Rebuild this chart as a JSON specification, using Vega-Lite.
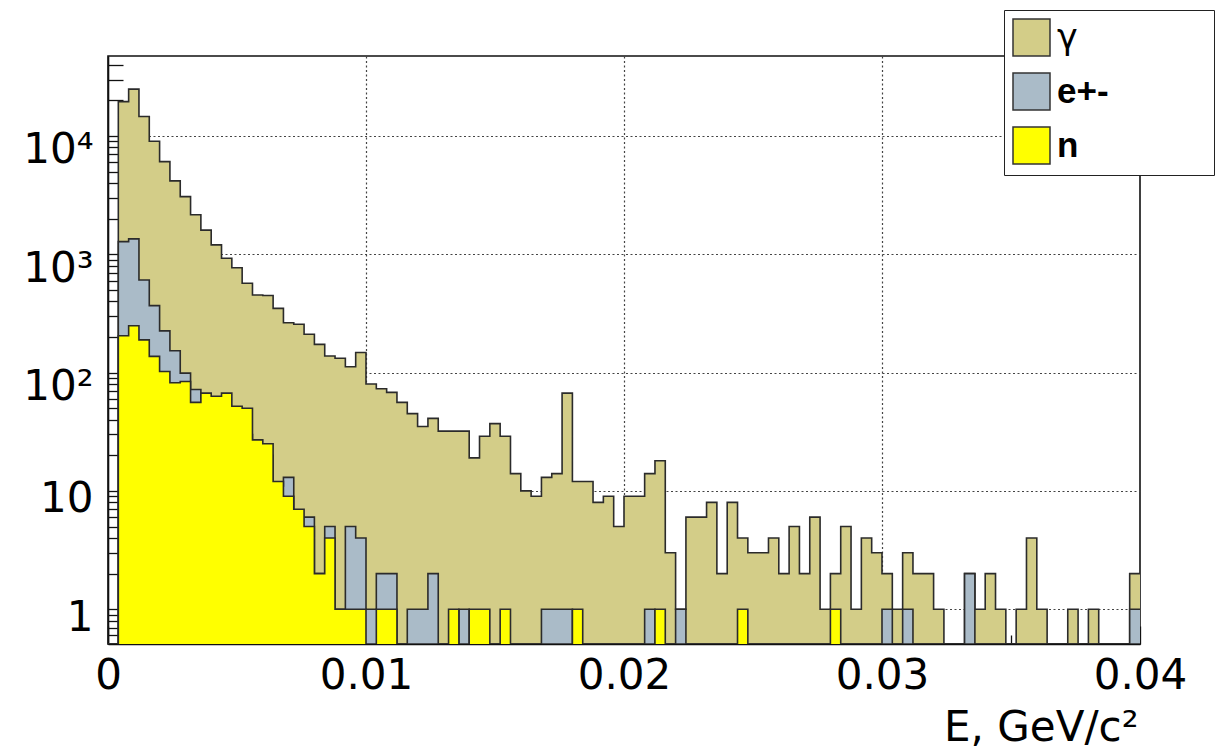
{
  "$schema": "https://vega.github.io/schema/vega-lite/v6.json",
  "width": 1032,
  "height": 588,
  "autosize": "none",
  "padding": {"left": 108, "top": 56, "right": 80, "bottom": 108},
  "background": "white",
  "config": {
    "font": "DejaVu Sans",
    "view": {"stroke": "#111", "strokeWidth": 1.6}
  },
  "data": {
    "values": [
      {"E": 0.0000, "g": 0, "e": 0, "n": 0},
      {"E": 0.0004, "g": 19500, "e": 1280, "n": 205},
      {"E": 0.0008, "g": 24900, "e": 1350, "n": 249},
      {"E": 0.0012, "g": 14600, "e": 606, "n": 189},
      {"E": 0.0016, "g": 9020, "e": 368, "n": 137},
      {"E": 0.0020, "g": 6070, "e": 225, "n": 102},
      {"E": 0.0024, "g": 4170, "e": 153, "n": 82},
      {"E": 0.0028, "g": 3070, "e": 99, "n": 84},
      {"E": 0.0032, "g": 2160, "e": 72, "n": 56},
      {"E": 0.0036, "g": 1600, "e": 60, "n": 67},
      {"E": 0.0040, "g": 1200, "e": 50, "n": 63},
      {"E": 0.0044, "g": 925, "e": 42, "n": 67},
      {"E": 0.0048, "g": 770, "e": 35, "n": 52},
      {"E": 0.0052, "g": 569, "e": 30, "n": 50},
      {"E": 0.0056, "g": 453, "e": 24, "n": 27},
      {"E": 0.0060, "g": 448, "e": 20, "n": 25},
      {"E": 0.0064, "g": 349, "e": 11, "n": 12},
      {"E": 0.0068, "g": 264, "e": 13, "n": 9},
      {"E": 0.0072, "g": 256, "e": 6, "n": 7},
      {"E": 0.0076, "g": 211, "e": 6, "n": 5},
      {"E": 0.0080, "g": 173, "e": 2, "n": 2},
      {"E": 0.0084, "g": 138, "e": 5, "n": 4},
      {"E": 0.0088, "g": 132, "e": 1, "n": 1},
      {"E": 0.0092, "g": 112, "e": 5, "n": 1},
      {"E": 0.0096, "g": 148, "e": 4, "n": 1},
      {"E": 0.0100, "g": 80, "e": 1, "n": 0},
      {"E": 0.0104, "g": 73, "e": 2, "n": 1},
      {"E": 0.0108, "g": 68, "e": 2, "n": 1},
      {"E": 0.0112, "g": 56, "e": 0, "n": 0},
      {"E": 0.0116, "g": 45, "e": 1, "n": 0},
      {"E": 0.0120, "g": 35, "e": 1, "n": 0},
      {"E": 0.0124, "g": 41, "e": 2, "n": 0},
      {"E": 0.0128, "g": 32, "e": 0, "n": 0},
      {"E": 0.0132, "g": 32, "e": 0, "n": 1},
      {"E": 0.0136, "g": 32, "e": 1, "n": 0},
      {"E": 0.0140, "g": 19, "e": 0, "n": 1},
      {"E": 0.0144, "g": 29, "e": 0, "n": 1},
      {"E": 0.0148, "g": 37, "e": 0, "n": 0},
      {"E": 0.0152, "g": 29, "e": 0, "n": 1},
      {"E": 0.0156, "g": 14, "e": 0, "n": 0},
      {"E": 0.0160, "g": 10, "e": 0, "n": 0},
      {"E": 0.0164, "g": 9, "e": 0, "n": 0},
      {"E": 0.0168, "g": 13, "e": 1, "n": 0},
      {"E": 0.0172, "g": 14, "e": 1, "n": 0},
      {"E": 0.0176, "g": 67, "e": 1, "n": 0},
      {"E": 0.0180, "g": 12, "e": 0, "n": 1},
      {"E": 0.0184, "g": 12, "e": 0, "n": 0},
      {"E": 0.0188, "g": 8, "e": 0, "n": 0},
      {"E": 0.0192, "g": 9, "e": 0, "n": 0},
      {"E": 0.0196, "g": 5, "e": 0, "n": 0},
      {"E": 0.0200, "g": 9, "e": 0, "n": 0},
      {"E": 0.0204, "g": 9, "e": 0, "n": 0},
      {"E": 0.0208, "g": 14, "e": 1, "n": 0},
      {"E": 0.0212, "g": 18, "e": 0, "n": 1},
      {"E": 0.0216, "g": 3, "e": 0, "n": 0},
      {"E": 0.0220, "g": 1, "e": 1, "n": 0},
      {"E": 0.0224, "g": 6, "e": 0, "n": 0},
      {"E": 0.0228, "g": 6, "e": 0, "n": 0},
      {"E": 0.0232, "g": 8, "e": 0, "n": 0},
      {"E": 0.0236, "g": 2, "e": 0, "n": 0},
      {"E": 0.0240, "g": 8, "e": 0, "n": 0},
      {"E": 0.0244, "g": 4, "e": 0, "n": 1},
      {"E": 0.0248, "g": 3, "e": 0, "n": 0},
      {"E": 0.0252, "g": 3, "e": 0, "n": 0},
      {"E": 0.0256, "g": 4, "e": 0, "n": 0},
      {"E": 0.0260, "g": 2, "e": 0, "n": 0},
      {"E": 0.0264, "g": 5, "e": 0, "n": 0},
      {"E": 0.0268, "g": 2, "e": 0, "n": 0},
      {"E": 0.0272, "g": 6, "e": 0, "n": 0},
      {"E": 0.0276, "g": 1, "e": 0, "n": 0},
      {"E": 0.0280, "g": 2, "e": 0, "n": 1},
      {"E": 0.0284, "g": 5, "e": 0, "n": 0},
      {"E": 0.0288, "g": 1, "e": 0, "n": 0},
      {"E": 0.0292, "g": 4, "e": 0, "n": 0},
      {"E": 0.0296, "g": 3, "e": 0, "n": 0},
      {"E": 0.0300, "g": 2, "e": 1, "n": 0},
      {"E": 0.0304, "g": 1, "e": 0, "n": 0},
      {"E": 0.0308, "g": 3, "e": 1, "n": 0},
      {"E": 0.0312, "g": 2, "e": 0, "n": 0},
      {"E": 0.0316, "g": 2, "e": 0, "n": 0},
      {"E": 0.0320, "g": 1, "e": 0, "n": 0},
      {"E": 0.0324, "g": 0, "e": 0, "n": 0},
      {"E": 0.0328, "g": 0, "e": 0, "n": 0},
      {"E": 0.0332, "g": 2, "e": 2, "n": 0},
      {"E": 0.0336, "g": 1, "e": 0, "n": 0},
      {"E": 0.0340, "g": 2, "e": 0, "n": 0},
      {"E": 0.0344, "g": 1, "e": 0, "n": 0},
      {"E": 0.0348, "g": 0, "e": 0, "n": 0},
      {"E": 0.0352, "g": 1, "e": 0, "n": 0},
      {"E": 0.0356, "g": 4, "e": 0, "n": 0},
      {"E": 0.0360, "g": 1, "e": 0, "n": 0},
      {"E": 0.0364, "g": 0, "e": 0, "n": 0},
      {"E": 0.0368, "g": 0, "e": 0, "n": 0},
      {"E": 0.0372, "g": 1, "e": 0, "n": 0},
      {"E": 0.0376, "g": 0, "e": 0, "n": 0},
      {"E": 0.0380, "g": 1, "e": 0, "n": 0},
      {"E": 0.0384, "g": 0, "e": 0, "n": 0},
      {"E": 0.0388, "g": 0, "e": 0, "n": 0},
      {"E": 0.0392, "g": 0, "e": 0, "n": 0},
      {"E": 0.0396, "g": 2, "e": 1, "n": 0},
      {"E": 0.0400, "g": 2, "e": 1, "n": 0}
    ]
  },
  "encoding": {
    "x": {
      "field": "E",
      "type": "quantitative",
      "title": "E, GeV/c²",
      "scale": {"domain": [0, 0.04], "nice": false, "zero": false},
      "axis": {
        "values": [0, 0.005, 0.01, 0.015, 0.02, 0.025, 0.03, 0.035, 0.04],
        "labelExpr": "datum.value == 0 ? '0' : (indexof([0.01, 0.02, 0.03, 0.04], datum.value) >= 0 ? format(datum.value, '.2f') : '')",
        "labelFontSize": 42,
        "labelColor": "#000",
        "labelBaseline": "alphabetic",
        "labelPadding": 62,
        "labelFlush": false,
        "labelOverlap": false,
        "tickColor": "#111",
        "tickWidth": 1.3,
        "tickSize": {"condition": {"test": "indexof([0, 0.01, 0.02, 0.03, 0.04], datum.value) >= 0", "value": -18}, "value": -9},
        "domain": true,
        "domainColor": "#111",
        "domainWidth": 1.6,
        "grid": true,
        "gridColor": "#444",
        "gridWidth": 1.2,
        "gridDash": [2, 2.5],
        "gridOpacity": {"condition": {"test": "indexof([0.01, 0.02, 0.03], datum.value) >= 0", "value": 1}, "value": 0},
        "titleFontSize": 42,
        "titleFontWeight": "normal",
        "titleColor": "#000",
        "titleAnchor": "end",
        "titleAlign": "right",
        "titleBaseline": "alphabetic",
        "titleX": 1030,
        "titleY": 96
      }
    }
  },
  "layer": [
    {
      "mark": {"type": "area", "interpolate": "step-after", "invalid": "show", "clip": true, "opacity": 1},
      "encoding": {
        "y": {
          "field": "g",
          "type": "quantitative",
          "title": null,
          "scale": {"type": "log", "domain": [0.508, 47400], "nice": false, "clamp": true},
          "axis": {
            "zindex": 0,
            "values": [0.6, 0.7, 0.8, 0.9, 1, 2, 3, 4, 5, 6, 7, 8, 9, 10, 20, 30, 40, 50, 60, 70, 80, 90, 100, 200, 300, 400, 500, 600, 700, 800, 900, 1000, 2000, 3000, 4000, 5000, 6000, 7000, 8000, 9000, 10000, 20000, 30000, 40000],
            "labelExpr": "datum.value == 1 ? '1' : datum.value == 10 ? '10' : datum.value == 100 ? '10²' : datum.value == 1000 ? '10³' : datum.value == 10000 ? '10⁴' : ''",
            "labelFontSize": 42,
            "labelColor": "#000",
            "labelAlign": "right",
            "labelBaseline": "alphabetic",
            "labelOffset": {"condition": {"test": "datum.value >= 100", "value": 27}, "value": 21},
            "labelPadding": 46,
            "labelOverlap": false,
            "labelFlush": false,
            "tickColor": "#111",
            "tickWidth": 1.3,
            "tickSize": {"condition": {"test": "indexof([1, 10, 100, 1000, 10000], datum.value) >= 0", "value": -31}, "value": -15},
            "domain": true,
            "domainColor": "#111",
            "domainWidth": 1.6,
            "grid": true,
            "gridColor": "#444",
            "gridWidth": 1.2,
            "gridDash": [2, 2.5],
            "gridOpacity": {"condition": {"test": "indexof([1, 10, 100, 1000, 10000], datum.value) >= 0", "value": 1}, "value": 0}
          }
        },
        "color": {
          "datum": "γ",
          "type": "nominal",
          "scale": {"domain": ["γ", "e+-", "n"], "range": ["#d3cd88", "#aabbc8", "#ffff00"]},
          "legend": {
            "orient": "none",
            "legendX": 896,
            "legendY": -46,
            "title": null,
            "fillColor": "white",
            "strokeColor": "#222",
            "padding": 8,
            "symbolType": "square",
            "symbolSize": 1369,
            "symbolStrokeColor": "#333",
            "symbolStrokeWidth": 1.5,
            "symbolOpacity": 1,
            "labelFont": "Liberation Sans",
            "labelFontSize": 35,
            "labelFontWeight": "bold",
            "labelColor": "#000",
            "labelOffset": 6,
            "labelExpr": "datum.label + '\u00a0\u00a0\u00a0\u00a0\u00a0\u00a0\u00a0\u00a0\u00a0\u00a0\u200b'",
            "rowPadding": 11,
            "encode": {
              "labels": {
                "update": {
                  "fontWeight": {"signal": "datum.value == 'γ' ? 'normal' : 'bold'"},
                  "font": {"signal": "datum.value == 'γ' ? 'DejaVu Sans' : 'Liberation Sans'"}
                }
              }
            }
          }
        }
      }
    },
    {
      "mark": {"type": "line", "interpolate": "step-after", "invalid": "show", "clip": true, "color": "#2b2b2b", "strokeWidth": 1.6},
      "encoding": {"y": {"field": "g", "type": "quantitative", "title": null}}
    },
    {
      "mark": {"type": "area", "interpolate": "step-after", "invalid": "show", "clip": true, "opacity": 1},
      "encoding": {
        "y": {"field": "e", "type": "quantitative", "title": null},
        "color": {"datum": "e+-", "type": "nominal"}
      }
    },
    {
      "mark": {"type": "line", "interpolate": "step-after", "invalid": "show", "clip": true, "color": "#2b2b2b", "strokeWidth": 1.6},
      "encoding": {"y": {"field": "e", "type": "quantitative", "title": null}}
    },
    {
      "mark": {"type": "area", "interpolate": "step-after", "invalid": "show", "clip": true, "opacity": 1},
      "encoding": {
        "y": {"field": "n", "type": "quantitative", "title": null},
        "color": {"datum": "n", "type": "nominal"}
      }
    },
    {
      "mark": {"type": "line", "interpolate": "step-after", "invalid": "show", "clip": true, "color": "#2b2b2b", "strokeWidth": 1.6},
      "encoding": {"y": {"field": "n", "type": "quantitative", "title": null}}
    }
  ]
}
